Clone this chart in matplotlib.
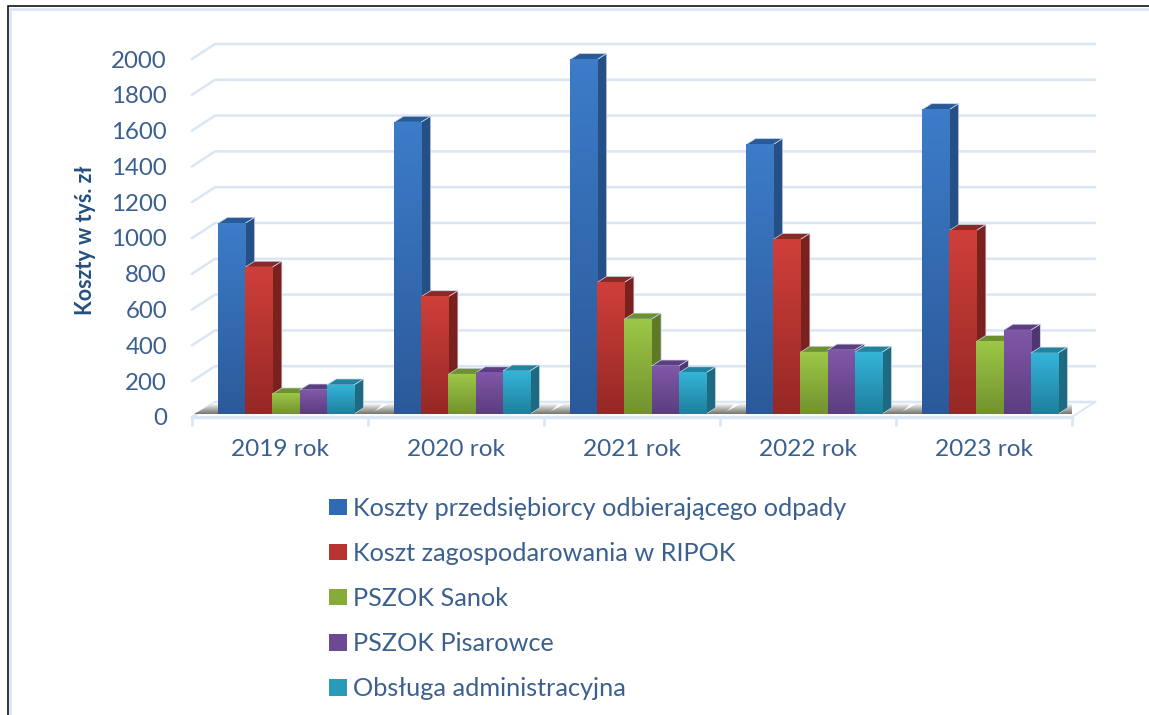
import numpy as np
import matplotlib
matplotlib.use('Agg')
import matplotlib.pyplot as plt
from matplotlib.patches import Patch, Polygon, Rectangle
from matplotlib.colors import LinearSegmentedColormap

years = ['2019 rok', '2020 rok', '2021 rok', '2022 rok', '2023 rok']
series_names = ['Koszty przedsiębiorcy odbierającego odpady',
                'Koszt zagospodarowania w RIPOK',
                'PSZOK Sanok', 'PSZOK Pisarowce', 'Obsługa administracyjna']
koszty_odbior = [1065, 1630, 1980, 1505, 1700]
koszty_ripok = [820, 655, 735, 975, 1025]
pszok_sanok = [112, 222, 530, 345, 405]
pszok_pisarowce = [134, 230, 268, 357, 468]
obsluga = [162, 240, 230, 345, 340]
yticks = list(range(0, 2001, 200))

top_colors = ['#3c7cc8', '#cf3f3a', '#9cc746', '#7f58a8', '#34b4d8']
bottom_colors = ['#2b5a9a', '#962825', '#72922f', '#5c3d7f', '#1f7f9e']
side_colors = ['#254f85', '#7a211e', '#5f7a26', '#50366f', '#1e6a80']
cap_colors = ['#2a5b99', '#8c2825', '#6f9030', '#5d3e80', '#23829e']
text_color = '#3b6090'
grid_color = '#dbe6f5'
halo_color = '#c9d9ee'

W, H = 1149, 715
fig = plt.figure(figsize=(W / 100, H / 100), dpi=100)
plt.rcParams['font.family'] = ['Lato', 'DejaVu Sans']

# axes box = front edge of the floor, pixels measured on the reference
ax = fig.add_axes([192 / W, 1 - 417 / H, 880 / W, 358 / H])
ax.set_xlim(0, 5)
ax.set_ylim(0, 2000)
ax.patch.set_alpha(0)

# pixel -> data helpers for the fake 3d depth
px_x = 5 / 880
px_y = 2000 / 358
wall_dx = 23 * px_x
wall_dy = 15 * px_y
bar_dx = 9.5 * px_x
bar_dy = 6 * px_y
base_y = 3 * px_y
bar_w = 27.2 * px_x
group_left = 26 * px_x

# back wall gridlines and floor
for v in yticks:
    ax.plot([0, wall_dx, 5 + wall_dx], [v, v + wall_dy, v + wall_dy],
            color=grid_color, lw=1.8, zorder=1, clip_on=False)
ax.plot([0, 5], [0, 0], color=grid_color, lw=2.4, zorder=1, clip_on=False)
ax.plot([5, 5 + wall_dx], [0, wall_dy], color=grid_color, lw=1.4, zorder=1, clip_on=False)

all_series = [koszty_odbior, koszty_ripok, pszok_sanok, pszok_pisarowce, obsluga]
grey_map = LinearSegmentedColormap.from_list('floor', ['#77776f', '#b5b5b0', '#ffffff'])

for g in range(len(years)):
    x0 = g + group_left
    x1 = x0 + bar_w * 5

    # shadow on the floor around each group
    shadow = ax.imshow(np.linspace(0, 1, 40)[:, None], cmap=grey_map, origin='lower',
                       extent=[x0 - 30 * px_x, x1 + 40 * px_x, base_y, base_y + 11 * px_y],
                       aspect='auto', zorder=1.5)
    shadow.set_clip_path(Polygon([[x0 - 24 * px_x, base_y], [x1 + 18 * px_x, base_y],
                                  [x1 + 30 * px_x, base_y + 11 * px_y],
                                  [x0 - 4 * px_x, base_y + 11 * px_y]],
                                 transform=ax.transData))

    for s in range(len(all_series)):
        v = all_series[s][g]
        left = x0 + s * bar_w
        right = left + bar_w
        top = base_y + v
        z = 3 + s * 0.1
        cmap = LinearSegmentedColormap.from_list('bar', [bottom_colors[s], top_colors[s]])
        ax.imshow(np.linspace(0, 1, 60)[:, None], cmap=cmap, origin='lower',
                  extent=[left, right, base_y, top], aspect='auto', zorder=z + 0.05)
        ax.add_patch(Polygon([[left, top], [right, top], [right + bar_dx, top + bar_dy],
                              [left + bar_dx, top + bar_dy]],
                             closed=True, facecolor=cap_colors[s], edgecolor=halo_color,
                             lw=0.5, zorder=z, clip_on=False))
        ax.add_patch(Polygon([[right, base_y], [right + bar_dx, base_y + bar_dy],
                              [right + bar_dx, top + bar_dy], [right, top]],
                             closed=True, facecolor=side_colors[s], edgecolor=halo_color,
                             lw=0.5, zorder=z, clip_on=False))

ax.set_xlim(0, 5)
ax.set_ylim(0, 2000)

ax.set_yticks(yticks)
ax.set_xticks(range(6))
ax.set_xticklabels([])
ax.set_xticks(np.arange(5) + 0.5, minor=True)
ax.set_xticklabels(years, minor=True)
ax.tick_params(axis='y', length=0, labelsize=17.3, labelcolor=text_color, pad=18)
ax.tick_params(axis='x', which='major', length=6.5, width=2, color=grid_color, direction='out')
ax.tick_params(axis='x', which='minor', length=0, labelsize=17.6, labelcolor=text_color, pad=16)
for side in ['top', 'right', 'left', 'bottom']:
    ax.spines[side].set_visible(False)

fig.text(85 / W, 1 - 240 / H, 'Koszty w tyś. zł', rotation=90, ha='center', va='center',
         fontsize=15.5, fontweight='bold', color='#25507f')

handles = [Patch(facecolor=c, edgecolor='none') for c in
           ['#3069b4', '#b83431', '#86ab3b', '#6c4a93', '#2a9abb']]
fig.legend(handles, series_names, loc='upper left', bbox_to_anchor=(306 / W, 1 - 474 / H),
           frameon=False, fontsize=18.15, labelcolor=text_color, handlelength=0.72,
           handleheight=0.62, handletextpad=0.23, labelspacing=0.88)

# picture frame: pale inner line with a black outer line on top
fig.add_artist(Rectangle((10 / W, -0.1), (W + 40) / W, 0.1 + (H - 9) / H, transform=fig.transFigure,
                         fill=False, edgecolor=grid_color, lw=2))
fig.add_artist(Rectangle((7.5 / W, -0.1), (W + 40) / W, 0.1 + (H - 6.5) / H, transform=fig.transFigure,
                         fill=False, edgecolor='black', lw=1.1))

fig.savefig('out.png', dpi=100)
